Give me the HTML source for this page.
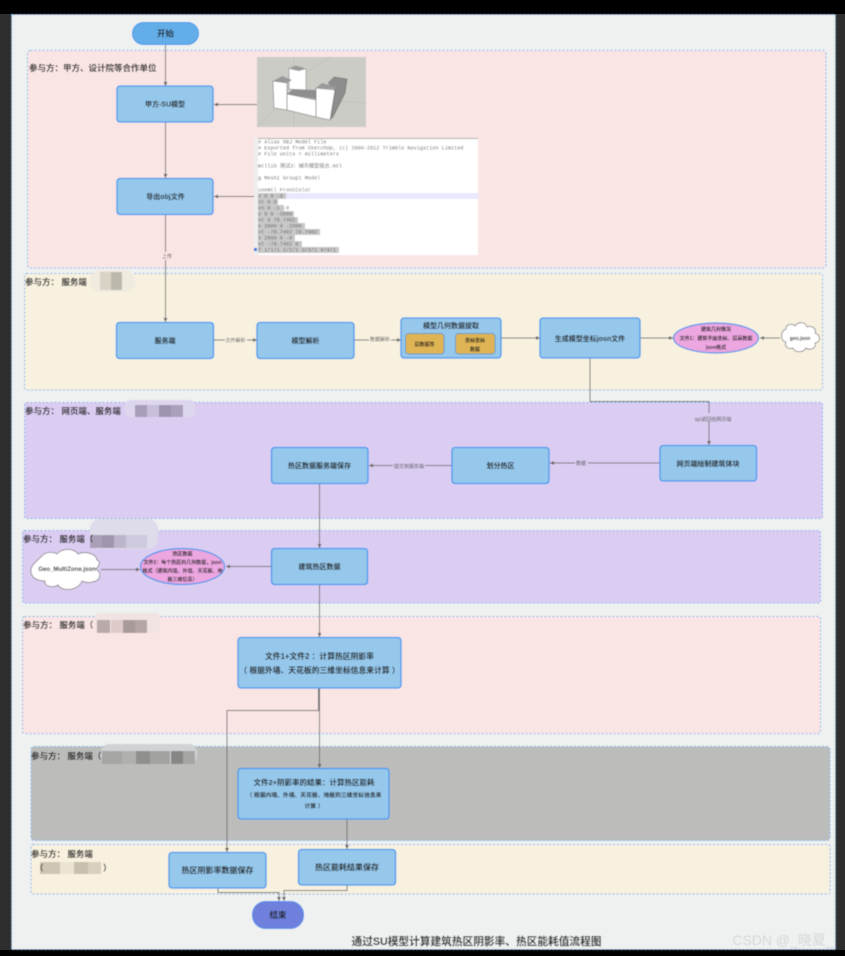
<!DOCTYPE html>
<html lang="zh"><head><meta charset="utf-8"><title>流程图</title>
<style>
html,body{margin:0;padding:0;width:845px;height:956px;overflow:hidden;background:#2e2e2e}
svg{display:block}
text{font-family:"Liberation Sans","Noto Sans CJK SC",sans-serif;fill:#222;text-anchor:middle}
.n{fill:#96c8ec;stroke:#3f97ee;stroke-width:1.3}
.lane{stroke:#6fb4ea;stroke-width:1;stroke-dasharray:2 2}
.c{fill:none;stroke:#6d6d6d;stroke-width:1}
.t{font-size:7px;font-weight:bold}
.s{font-size:5px;font-weight:bold}
.l{font-size:5px;fill:#555}
.h{font-size:8.5px;font-weight:bold;text-anchor:start}
.m{font-family:"Liberation Mono",monospace;font-size:5.2px;fill:#666;text-anchor:start}
.cl{fill:#fff;stroke:#777;stroke-width:.8}
.e{fill:#eca6e0;stroke:#3f97ee;stroke-width:1.2}
.sel{fill:#c8c8c8}
</style></head><body>
<svg width="845" height="956" viewBox="0 0 845 956" xmlns="http://www.w3.org/2000/svg">
<defs>
<marker id="a" markerWidth="5" markerHeight="5" refX="4" refY="2" orient="auto"><path d="M0 0L4 2L0 4z" fill="#666"/></marker>
<filter id="b" x="-5%" y="-5%" width="110%" height="110%"><feGaussianBlur stdDeviation="0.45"/></filter>
</defs>
<rect width="845" height="956" fill="#2e2e2e"/>
<rect width="845" height="14" fill="#000"/>
<rect y="950" width="845" height="6" fill="#000"/>
<g filter="url(#b)">
<rect x="11.5" y="14.5" width="824" height="935" fill="#eff1f1" class="lane"/>
<rect x="27.5" y="50.5" width="798.5" height="217.5" rx="3" fill="#fae5e5" class="lane"/>
<rect x="24.5" y="273.5" width="798" height="116.5" rx="2" fill="#f8f1e0" class="lane"/>
<rect x="24.5" y="402.5" width="798" height="116" rx="2" fill="#dbcdf2" class="lane"/>
<rect x="22.5" y="530.5" width="798" height="72.5" rx="2" fill="#dbcdf2" class="lane"/>
<rect x="22.5" y="616.5" width="798" height="117" rx="2" fill="#fae5e5" class="lane"/>
<rect x="31" y="746.5" width="799" height="94" rx="3" fill="#bcbdbb" class="lane"/>
<rect x="31" y="844.5" width="799" height="49.5" rx="2" fill="#f8f1e0" class="lane"/>

<!-- redaction patches -->
<rect x="90" y="270" width="45" height="22" rx="9" fill="#f0ebdf"/>
<rect x="100" y="272" width="11" height="18" fill="#d9d3c6"/><rect x="111" y="272" width="11" height="18" fill="#bdb8ac"/>
<rect x="125" y="400" width="70" height="17" rx="5" fill="#ded6ee"/>
<rect x="135" y="405" width="12" height="12" fill="#a89dba"/><rect x="147" y="405" width="12" height="12" fill="#c8bfda"/><rect x="159" y="405" width="12" height="12" fill="#9e93b1"/><rect x="171" y="405" width="12" height="12" fill="#aaa0bc"/>
<rect x="90" y="519" width="68" height="30" rx="10" fill="#dedbea"/>
<rect x="90" y="535" width="12" height="13" fill="#a9a0b8"/><rect x="102" y="535" width="12" height="13" fill="#9f96ae"/><rect x="114" y="535" width="12" height="13" fill="#bdb5cc"/><rect x="126" y="535" width="21" height="13" fill="#cfc9dd"/>
<rect x="95" y="613" width="65" height="20" rx="4" fill="#f1e3e3"/>
<rect x="97" y="620" width="13" height="13" fill="#b9a9a9"/><rect x="111" y="620" width="12" height="13" fill="#dfcaca"/><rect x="123" y="620" width="12" height="13" fill="#a99a9a"/><rect x="135" y="620" width="12" height="13" fill="#b5a5a5"/>
<rect x="101" y="744" width="96" height="20" rx="8" fill="#d0d3d4"/>
<rect x="102" y="751" width="20" height="13" fill="#a5a5a4"/><rect x="122" y="751" width="14" height="13" fill="#b0b0af"/><rect x="136" y="751" width="14" height="13" fill="#8f8f8e"/><rect x="150" y="751" width="20" height="13" fill="#a2a2a1"/><rect x="171" y="751" width="12" height="13" fill="#868685"/><rect x="183" y="751" width="12" height="13" fill="#a5a5a4"/>
<rect x="40" y="862" width="20" height="12" fill="#cfc5b4"/><rect x="60" y="862" width="14" height="12" fill="#ebe4d5"/><rect x="74" y="862" width="14" height="12" fill="#c8bfae"/><rect x="88" y="862" width="13" height="12" fill="#d8cfbe"/>

<!-- connectors -->
<path class="c" d="M165.5 44V86" marker-end="url(#a)"/>
<path class="c" d="M257 104.500H214" marker-end="url(#a)"/>
<path class="c" d="M165.500 122V178" marker-end="url(#a)"/>
<path class="c" d="M254 196.500H214" marker-end="url(#a)"/>
<path class="c" d="M165.500 214V322" marker-end="url(#a)"/>
<path class="c" d="M213 340H257" marker-end="url(#a)"/>
<path class="c" d="M354 340H401" marker-end="url(#a)"/>
<path class="c" d="M501 338H540" marker-end="url(#a)"/>
<path class="c" d="M640 338H673" marker-end="url(#a)"/>
<path class="c" d="M780 338H760" marker-end="url(#a)"/>
<path class="c" d="M590 358V401.500H709V445" marker-end="url(#a)"/>
<path class="c" d="M660 463H550" marker-end="url(#a)"/>
<path class="c" d="M452 465.500H369" marker-end="url(#a)"/>
<path class="c" d="M319.500 483V548" marker-end="url(#a)"/>
<path class="c" d="M271 566.500H226" marker-end="url(#a)"/>
<path class="c" d="M101 569.500H140" marker-end="url(#a)"/>
<path class="c" d="M319.500 584V637" marker-end="url(#a)"/>
<path class="c" d="M318.500 688V710.500H227V852" marker-end="url(#a)"/>
<path class="c" d="M319.500 688V768" marker-end="url(#a)"/>
<path class="c" d="M347 819V849" marker-end="url(#a)"/>
<path class="c" d="M218 888V892.500H279V901" marker-end="url(#a)"/>
<path class="c" d="M347 885V890.500H284V901" marker-end="url(#a)"/>

<!-- connector labels -->
<rect x="160" y="252" width="13" height="8" fill="#fae5e5"/><text class="l" x="167" y="258">上传</text>
<rect x="225" y="336" width="22" height="8" fill="#f8f1e0"/><text class="l" x="235.500" y="342">文件解析</text>
<rect x="369" y="335" width="22" height="8" fill="#f8f1e0"/><text class="l" x="380" y="341">数据解析</text>
<rect x="692" y="413" width="44" height="8" fill="#dbcdf2"/><text class="l" x="713" y="421">api返回给网页端</text>
<rect x="575" y="459" width="13" height="8" fill="#dbcdf2"/><text class="l" x="581" y="465">数据</text>
<rect x="393" y="461" width="32" height="8" fill="#dbcdf2"/><text class="l" x="409" y="468">提交到服务端</text>

<!-- start / end -->
<rect x="132.500" y="22.500" width="66" height="22" rx="11" fill="#63aee8" stroke="#3f97ee"/>
<text x="165.500" y="36.500" style="font-size:8.500px;font-weight:bold">开始</text>
<rect x="252.500" y="901.500" width="51" height="27" rx="13" fill="#6e80dc" stroke="#4f8fee"/>
<text x="278" y="918" style="font-size:8.500px;font-weight:bold">结束</text>

<!-- lane headings -->
<text class="h" x="29" y="71">参与方：甲方、设计院等合作单位</text>
<text class="h" x="25" y="285">参与方： 服务端</text>
<text class="h" x="25" y="414">参与方： 网页端、服务端</text>
<text class="h" x="23" y="542">参与方： 服务端（</text>
<text class="h" x="23" y="628">参与方： 服务端（</text>
<text class="h" x="31" y="759">参与方： 服务端（</text>
<text class="h" x="31" y="857">参与方： 服务端</text>
<text class="h" x="35" y="871">（</text><text class="h" x="103" y="871">）</text>

<!-- sketchup image -->
<rect x="257" y="57" width="109" height="70" fill="#ccccc6"/>
<path d="M257 127L275 108M316 100L366 103M294 108V127M294 57V66M330 57L306 72" stroke="#b5b5b8" stroke-width=".5" fill="none"/>
<path d="M328 83L334 77L347 79L345 93L333 117L330 120L335 90z" fill="#8d8d8d" stroke="#555" stroke-width=".5"/>
<path d="M289 68L296 66L306 69V91L289 89z" fill="#fff" stroke="#666" stroke-width=".5"/>
<path d="M289 69L296 66L306 69L299 71z" fill="#9a9a9a"/>
<path d="M273 81L287 83V110L274 108z" fill="#fff" stroke="#555" stroke-width=".5"/>
<path d="M273 81L282 76L292 80L287 83z" fill="#999"/>
<path d="M287 94L316 100V117L287 110z" fill="#fff" stroke="#555" stroke-width=".5"/>
<path d="M287 94L293 89L316 90V99z" fill="#8e8e8e"/>
<path d="M316 88L335 90L330 120L316 117z" fill="#fff" stroke="#555" stroke-width=".5"/>
<path d="M316 88L322 83L336 87L335 89z" fill="#9a9a9a"/>

<!-- obj code image -->
<rect x="254" y="138" width="224" height="117" fill="#fff"/>
<rect x="254" y="138" width="224" height="1" fill="#aaa"/>
<rect x="254" y="138" width="4" height="117" fill="#eee"/>
<rect x="258" y="193" width="220" height="6" fill="#e8e8ff"/>
<rect class="sel" x="258" y="193" width="28" height="6"/>
<rect class="sel" x="258" y="199" width="20" height="6"/>
<rect class="sel" x="258" y="205" width="26" height="6"/>
<rect class="sel" x="258" y="211" width="36" height="6"/>
<rect class="sel" x="258" y="217" width="40" height="6"/>
<rect class="sel" x="258" y="223" width="47" height="6"/>
<rect class="sel" x="258" y="229" width="62" height="6"/>
<rect class="sel" x="258" y="235" width="37" height="6"/>
<rect class="sel" x="258" y="241" width="44" height="6"/>
<rect class="sel" x="258" y="247" width="81" height="6"/>
<circle cx="255.500" cy="249.500" r="1.600" fill="#3a6ee0"/>
<text class="m" x="258" y="143.500"># Alias OBJ Model File</text>
<text class="m" x="258" y="149.500"># Exported from SketchUp, (c) 2000-2012 Trimble Navigation Limited</text>
<text class="m" x="258" y="155.500"># File units = millimeters</text>
<text class="m" x="258" y="167.500">mtllib 测试3：城市模型组合.mtl</text>
<text class="m" x="258" y="179.500">g Mesh1 Group1 Model</text>
<text class="m" x="258" y="191.500">usemtl FrontColor</text>
<text class="m" x="258" y="197.500">v 0 0 -0</text>
<text class="m" x="258" y="203.500">vt 0 0</text>
<text class="m" x="258" y="209.500">vn 0 -1 -0</text>
<text class="m" x="258" y="215.500">v 0 0 -2000</text>
<text class="m" x="258" y="221.500">vt 0 78.7402</text>
<text class="m" x="258" y="227.500">v 2000 0 -2000</text>
<text class="m" x="258" y="233.500">vt -78.7402 78.7402</text>
<text class="m" x="258" y="239.500">v 2000 0 -0</text>
<text class="m" x="258" y="245.500">vt -78.7402 0</text>
<text class="m" x="258" y="251.500">f 1/1/1 2/2/1 3/3/1 4/4/1</text>

<!-- nodes -->
<rect class="n" x="117" y="86" width="96" height="36" rx="3"/><text class="t" x="165" y="106.500">甲方-SU模型</text>
<rect class="n" x="117" y="178.500" width="96" height="36" rx="3"/><text class="t" x="165.500" y="199">导出obj文件</text>
<rect class="n" x="116.500" y="322.500" width="97" height="36" rx="3"/><text class="t" x="165" y="343">服务端</text>
<rect class="n" x="257" y="322.500" width="97" height="36" rx="3"/><text class="t" x="305.500" y="343">模型解析</text>
<rect class="n" x="401" y="318" width="100" height="40" rx="3"/><text class="t" x="451" y="328">模型几何数据提取</text>
<rect x="405.500" y="333.500" width="38.500" height="20.500" rx="3" fill="#dfb455" stroke="#4f8fc0" stroke-width=".8"/><text class="s" x="424.500" y="346">层数据等</text>
<rect x="455.500" y="333.500" width="39.500" height="20.500" rx="3" fill="#dfb455" stroke="#4f8fc0" stroke-width=".8"/><text class="s" x="475" y="342">坐标坐标</text><text class="s" x="475" y="351">数据</text>
<rect class="n" x="540" y="318" width="100" height="40" rx="3"/><text class="t" x="590" y="341">生成模型坐标josn文件</text>
<ellipse class="e" cx="716" cy="338" rx="42.500" ry="15"/>
<text class="s" x="716" y="331">建筑几何情况</text><text class="s" x="716" y="340">文件1：建筑平面坐标、层高数据</text><text class="s" x="716" y="349">json格式</text>
<path class="cl" d="M786 329C786 324 792 323 795 326C798 321 806 322 807 327C812 325 817 329 815 333C821 335 821 342 815 343C817 348 810 351 806 348C803 353 795 353 793 348C788 350 784 346 786 342C780 341 780 331 786 329z"/>
<text class="s" x="800" y="340">geo.json</text>
<rect class="n" x="660" y="445.500" width="96.500" height="35.500" rx="3"/><text class="t" x="708" y="466">网页端绘制建筑体块</text>
<rect class="n" x="452" y="447.500" width="97" height="36" rx="3"/><text class="t" x="500.500" y="468">划分热区</text>
<rect class="n" x="271.500" y="447.500" width="96.500" height="36" rx="3"/><text class="t" x="319.500" y="468">热区数据服务端保存</text>
<rect class="n" x="271.500" y="548.500" width="96" height="36" rx="3"/><text class="t" x="319.500" y="569">建筑热区数据</text>
<ellipse class="e" cx="182.500" cy="566.500" rx="42" ry="18"/>
<text class="s" x="182.500" y="555.500">热区数据</text><text class="s" x="182.500" y="564">文件2：每个热区的几何数据，json</text><text class="s" x="182.500" y="572.500">格式（建筑内墙、外墙、天花板、地</text><text class="s" x="182.500" y="581">板三维信息）</text>
<path class="cl" d="M42 556C46 551 54 552 57 554C62 548 74 548 78 554C84 551 96 553 97 560C102 562 98 567 96 569C102 573 101 581 92 582C88 583 84 582 82 581C78 591 62 592 58 585C54 588 44 587 45 581C38 581 30 578 31 570C31 565 38 560 42 556z"/>
<text class="s" x="67" y="571" style="font-size:6px">Geo_MultiZone.json</text>
<rect class="n" x="238" y="637.500" width="163" height="50.500" rx="3"/>
<text x="319.500" y="659" style="font-size:7.800px;font-weight:bold">文件1+文件2 ：计算热区阴影率</text>
<text x="319.500" y="673" style="font-size:7.800px;font-weight:bold">（ 根据外墙、天花板的三维坐标信息来计算 ）</text>
<rect class="n" x="238" y="768.500" width="151" height="50.500" rx="3"/>
<text x="314" y="785" style="font-size:7.500px;font-weight:bold">文件2+阴影率的结果：计算热区能耗</text>
<text x="314" y="797" style="font-size:5.800px;font-weight:bold">（ 根据内墙、外墙、天花板、地板的三维坐标信息来</text>
<text x="314" y="808" style="font-size:5.800px;font-weight:bold">计算 ）</text>
<rect class="n" x="169" y="852.500" width="97" height="35.500" rx="3"/><text x="217.500" y="873" style="font-size:8px;font-weight:bold">热区阴影率数据保存</text>
<rect class="n" x="298.500" y="849.500" width="97" height="35.500" rx="3"/><text x="347" y="870" style="font-size:8px;font-weight:bold">热区能耗结果保存</text>
<text x="476.500" y="945" style="font-size:10.700px;font-weight:bold;fill:#2a2a2a">通过SU模型计算建筑热区阴影率、热区能耗值流程图</text>
<text x="783" y="945" style="font-size:14px;fill:#d4d6d7">CSDN @_晓夏_</text>
</g>
</svg>
</body></html>
